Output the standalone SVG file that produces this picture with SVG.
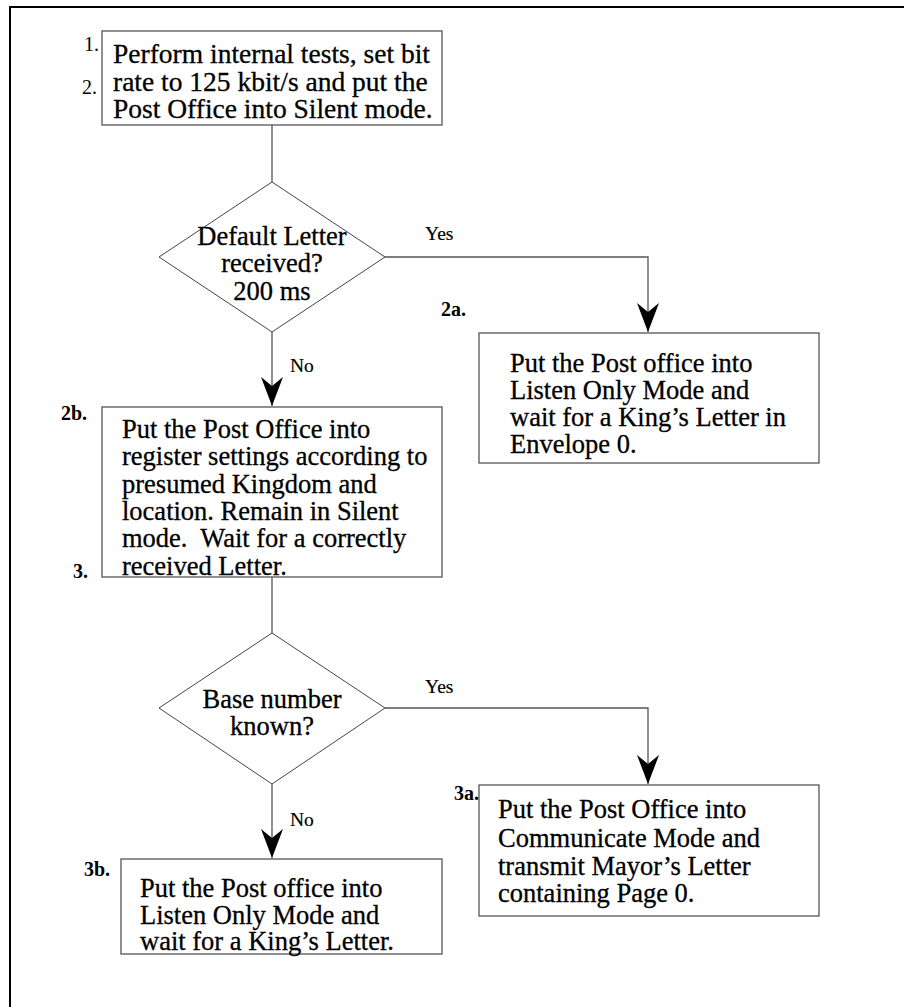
<svg xmlns="http://www.w3.org/2000/svg" width="904" height="1007" viewBox="0 0 904 1007">
<style>
.frame{stroke:#000;stroke-width:2;fill:none}
.box{fill:#fff;stroke:#555;stroke-width:1.3}
.dia{fill:#fff;stroke:#444;stroke-width:1}
.ln{fill:none;stroke:#555;stroke-width:1.3}
.t{font-family:"Liberation Serif","Times New Roman",serif;font-size:26.5px;fill:#000;stroke:#000;stroke-width:0.3;white-space:pre}
.big{font-size:27.5px}
.c{text-anchor:middle}
.lbl{font-family:"Liberation Serif","Times New Roman",serif;font-size:20px;fill:#000}
.b{font-weight:bold}
.yn{font-family:"Liberation Serif","Times New Roman",serif;font-size:19.5px;fill:#000;stroke:#000;stroke-width:0.2}
</style>
<defs>
<marker id="ah" markerUnits="userSpaceOnUse" markerWidth="32" markerHeight="24" viewBox="0 0 32 24" refX="30" refY="12" orient="auto">
<path d="M30,12 L1,1 L10,12 L1,23 Z" fill="#000"/>
</marker>
</defs>
<rect width="904" height="1007" fill="#fff"/>
<path class="frame" d="M10,1007 L10,7 L904,7"/>
<g id="connectors">
<path class="ln" d="M272,125 L272,182"/>
<path class="ln" d="M385,257 L648,257 L648,332" marker-end="url(#ah)"/>
<path class="ln" d="M272,332 L272,406" marker-end="url(#ah)"/>
<path class="ln" d="M272,577 L272,633"/>
<path class="ln" d="M385,708 L648,708 L648,784" marker-end="url(#ah)"/>
<path class="ln" d="M272,784 L272,858" marker-end="url(#ah)"/>
<text class="yn" x="425" y="240">Yes</text>
<text class="yn" x="290" y="372">No</text>
<text class="yn" x="425" y="693">Yes</text>
<text class="yn" x="290" y="826">No</text>
</g>
<g id="step1">
<rect class="box" x="102" y="31" width="340" height="94"/>
<text class="t big" x="113" y="63">Perform internal tests, set bit</text>
<text class="t big" x="113" y="91">rate to 125 kbit/s and put the</text>
<text class="t big" x="113" y="118">Post Office into Silent mode.</text>
<text class="lbl" x="84" y="51">1.</text>
<text class="lbl" x="82" y="94">2.</text>
</g>
<g id="decision1">
<polygon class="dia" points="272,182 385,257 272,332 159,257"/>
<text class="t c" x="272" y="245">Default Letter</text>
<text class="t c" x="272" y="272">received?</text>
<text class="t c" x="272" y="300">200 ms</text>
</g>
<g id="step2a">
<rect class="box" x="479" y="333" width="340" height="130"/>
<text class="t" x="510" y="372">Put the Post office into</text>
<text class="t" x="510" y="399">Listen Only Mode and</text>
<text class="t" x="510" y="426">wait for a King’s Letter in</text>
<text class="t" x="510" y="453">Envelope 0.</text>
<text class="lbl b" x="441" y="316">2a.</text>
</g>
<g id="step2b">
<rect class="box" x="102" y="407" width="340" height="170"/>
<text class="t" x="122" y="438">Put the Post Office into</text>
<text class="t" x="122" y="465">register settings according to</text>
<text class="t" x="122" y="493">presumed Kingdom and</text>
<text class="t" x="122" y="520">location. Remain in Silent</text>
<text class="t" x="122" y="547">mode.  Wait for a correctly</text>
<text class="t" x="122" y="575">received Letter.</text>
<text class="lbl b" x="61" y="420">2b.</text>
<text class="lbl b" x="73" y="578">3.</text>
</g>
<g id="decision2">
<polygon class="dia" points="272,633 385,708 272,784 159,708"/>
<text class="t c" x="272" y="708">Base number</text>
<text class="t c" x="272" y="735">known?</text>
</g>
<g id="step3a">
<rect class="box" x="479" y="785" width="340" height="131"/>
<text class="t" x="498" y="818">Put the Post Office into</text>
<text class="t" x="498" y="847">Communicate Mode and</text>
<text class="t" x="498" y="875">transmit Mayor’s Letter</text>
<text class="t" x="498" y="902">containing Page 0.</text>
<text class="lbl b" x="454" y="800">3a.</text>
</g>
<g id="step3b">
<rect class="box" x="121" y="859" width="321" height="95"/>
<text class="t" x="140" y="897">Put the Post office into</text>
<text class="t" x="140" y="924">Listen Only Mode and</text>
<text class="t" x="140" y="950">wait for a King’s Letter.</text>
<text class="lbl b" x="84" y="876">3b.</text>
</g>
</svg>
